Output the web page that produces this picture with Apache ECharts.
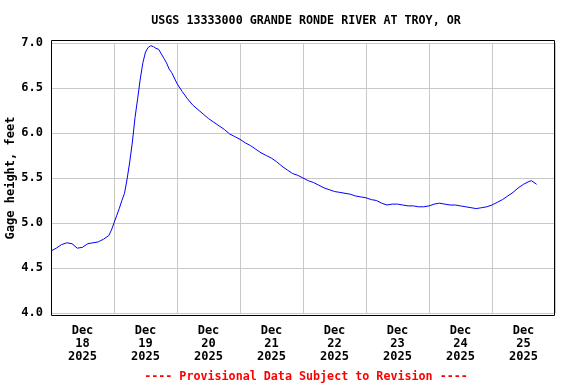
<!DOCTYPE html>
<html>
<head>
<meta charset="utf-8">
<script src="https://cdn.jsdelivr.net/npm/echarts@6/dist/echarts.min.js"></script>
<style>
html,body{margin:0;padding:0;background:#fff;}
#chart{width:576px;height:384px;}
</style>
</head>
<body>
<div id="chart"></div>
<script>
// Hours since Dec 18 2025 00:00
const hours = [0,2,4,6,8,10,12,14,16,18,20,22,23,24,25,26,27,28,29,30,31,32,33,34,35,36,37,38,39,40,41,42,43,44,45,46,48,50,52,54,56,58,60,62,64,66,68,70,72,74,76,78,80,82,84,86,88,90,92,94,96,98,100,102,104,106,108,110,112,114,116,118,120,122,124,126,128,130,132,134,136,138,140,142,144,146,148,150,152,154,156,158,160,162,164,166,168,170,172,174,176,178,180,182,183,184,185];
// Gage height, feet
const gage = [4.69,4.72,4.76,4.78,4.77,4.72,4.73,4.77,4.78,4.79,4.82,4.86,4.92,5.00,5.08,5.16,5.25,5.33,5.49,5.68,5.90,6.17,6.38,6.60,6.78,6.90,6.95,6.97,6.96,6.94,6.93,6.88,6.83,6.78,6.71,6.67,6.55,6.46,6.38,6.31,6.26,6.21,6.16,6.12,6.08,6.04,5.99,5.96,5.93,5.89,5.86,5.82,5.78,5.75,5.72,5.68,5.63,5.59,5.55,5.53,5.50,5.47,5.45,5.42,5.39,5.37,5.35,5.34,5.33,5.32,5.30,5.29,5.28,5.26,5.25,5.22,5.20,5.21,5.21,5.20,5.19,5.19,5.18,5.18,5.19,5.21,5.22,5.21,5.20,5.20,5.19,5.18,5.17,5.16,5.17,5.18,5.20,5.23,5.26,5.30,5.34,5.39,5.43,5.46,5.47,5.45,5.43];
const dayLabels = ['Dec\n18\n2025','Dec\n19\n2025','Dec\n20\n2025','Dec\n21\n2025','Dec\n22\n2025','Dec\n23\n2025','Dec\n24\n2025','Dec\n25\n2025'];
const titleText = 'USGS 13333000 GRANDE RONDE RIVER AT TROY, OR';
const footerText = '---- Provisional Data Subject to Revision ----';
const yName = 'Gage height, feet';

const FONT = "'DejaVu Sans Mono', monospace";
const chart = echarts.init(document.getElementById('chart'), null, {renderer:'canvas'});
chart.setOption({
  animation: false,
  backgroundColor: '#fff',
  title: [
    {text: titleText, left: 301, top: 10, textAlign: 'center',
     textStyle: {fontFamily: FONT, fontSize: 11.7, fontWeight: 'bold', color: '#000'}},
    {text: footerText, left: 301, top: 366, textAlign: 'center',
     textStyle: {fontFamily: FONT, fontSize: 11.7, fontWeight: 'bold', color: '#ff0000'}}
  ],
  grid: {left: 51, right: 21, top: 43, bottom: 71, containLabel: false, outerBoundsMode: 'none'},
  xAxis: [
    {type: 'value', min: 0, max: 192, interval: 24,
     axisLine: {show: false}, axisTick: {show: false}, axisLabel: {show: false},
     splitLine: {show: true, lineStyle: {color: '#c8c8c8', width: 1}}},
    {type: 'category', data: dayLabels, boundaryGap: true, position: 'bottom',
     axisLine: {show: false}, axisTick: {show: false}, splitLine: {show: false},
     axisLabel: {interval: 0, margin: 11, lineHeight: 13, fontFamily: FONT, fontSize: 12, fontWeight: 'bold', color: '#000'}}
  ],
  yAxis: {
    type: 'value', min: 4, max: 7, interval: 0.5,
    axisLine: {show: false}, axisTick: {show: false},
    splitLine: {show: true, lineStyle: {color: '#c8c8c8', width: 1}},
    axisLabel: {margin: 8, formatter: v => v.toFixed(1), fontFamily: FONT, fontSize: 12, fontWeight: 'bold', color: '#000'},
    name: yName, nameLocation: 'middle', nameRotate: 90, nameGap: 34, nameMoveOverlap: false,
    nameTextStyle: {fontFamily: FONT, fontSize: 12, fontWeight: 'bold', color: '#000'}
  },
  series: [{
    type: 'line', xAxisIndex: 0, yAxisIndex: 0,
    data: hours.map((h, i) => [h, gage[i]]),
    showSymbol: false, symbol: 'none',
    lineStyle: {color: '#0000ff', width: 1}
  }],
  graphic: [{
    type: 'rect', z: 100, silent: true,
    shape: {x: 51.5, y: 40.5, width: 503, height: 275},
    style: {fill: 'none', stroke: '#000', lineWidth: 1}
  }]
});
</script>
</body>
</html>
